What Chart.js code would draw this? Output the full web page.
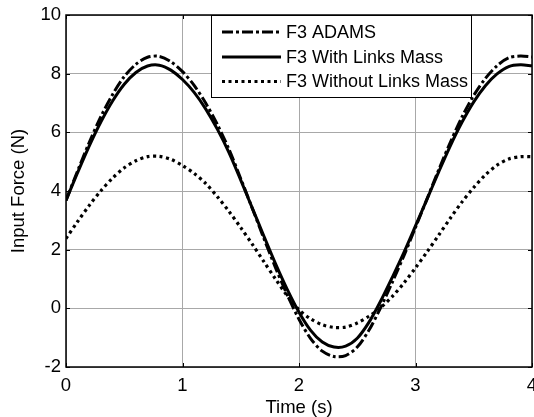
<!DOCTYPE html>
<html>
<head>
<meta charset="utf-8">
<script src="https://cdn.jsdelivr.net/npm/chart.js@4"></script>
<style>
  html, body { margin: 0; padding: 0; background: #fff; }
  #wrap { width: 534px; height: 417px; }
</style>
</head>
<body>
<div id="wrap"><canvas id="forceChart" width="534" height="417"></canvas></div>
<script>
// time samples (s)
const timeValues = [0, 0.1, 0.2, 0.3, 0.4, 0.5, 0.6, 0.7, 0.8, 0.9,
  1, 1.1, 1.2, 1.3, 1.4, 1.5, 1.6, 1.7, 1.8, 1.9,
  2, 2.1, 2.2, 2.3, 2.4, 2.5, 2.6, 2.7, 2.8, 2.9,
  3, 3.1, 3.2, 3.3, 3.4, 3.5, 3.6, 3.7, 3.8, 3.9, 4];

// input force (N)
const adamsForce = [3.68, 4.69, 5.66, 6.54, 7.29, 7.90, 8.32, 8.56, 8.59, 8.41,
  8.07, 7.60, 6.99, 6.26, 5.41, 4.42, 3.40, 2.37, 1.37, 0.45,
  -0.37, -1.03, -1.46, -1.64, -1.61, -1.32, -0.75, 0.02, 0.88, 1.79,
  2.76, 3.74, 4.73, 5.67, 6.53, 7.26, 7.84, 8.27, 8.54, 8.60, 8.57];

const withLinksForce = [3.68, 4.63, 5.54, 6.36, 7.07, 7.64, 8.04, 8.26, 8.29, 8.12,
  7.80, 7.36, 6.79, 6.10, 5.30, 4.37, 3.41, 2.45, 1.51, 0.64,
  -0.13, -0.75, -1.15, -1.32, -1.29, -1.02, -0.48, 0.24, 1.05, 1.90,
  2.81, 3.73, 4.66, 5.55, 6.35, 7.04, 7.59, 7.99, 8.24, 8.30, 8.27];

const withoutLinksForce = [2.38, 2.96, 3.51, 4.01, 4.44, 4.79, 5.03, 5.17, 5.18, 5.08,
  4.87, 4.60, 4.25, 3.80, 3.30, 2.75, 2.18, 1.58, 0.99, 0.42,
  -0.05, -0.36, -0.56, -0.65, -0.64, -0.50, -0.27, 0.02, 0.40, 0.86,
  1.38, 1.93, 2.50, 3.08, 3.63, 4.12, 4.55, 4.88, 5.09, 5.17, 5.17];

const seriesLabels = ['F3 ADAMS', 'F3 With Links Mass', 'F3 Without Links Mass'];
const xTicks = [0, 1, 2, 3, 4];
const yTicks = [-2, 0, 2, 4, 6, 8, 10];

const fontFamily = '"Liberation Sans", Arial, Helvetica, sans-serif';

function toPoints(values) {
    return values.map((v, i) => ({ x: timeValues[i], y: v }));
}

// box around the axes + inward tick marks (matlab style)
const axesBox = {
    id: 'axesBox',
    afterDatasetsDraw(chart) {
        const { ctx, chartArea: a, scales } = chart;
        ctx.save();
        ctx.strokeStyle = '#000';
        ctx.lineWidth = 1;
        xTicks.forEach(v => {
            const px = Math.round(scales.x.getPixelForValue(v)) + 0.5;
            ctx.beginPath();
            ctx.moveTo(px, a.bottom); ctx.lineTo(px, a.bottom - 4);
            ctx.moveTo(px, a.top); ctx.lineTo(px, a.top + 4);
            ctx.stroke();
        });
        yTicks.forEach(v => {
            const py = Math.round(scales.y.getPixelForValue(v)) + 0.5;
            ctx.beginPath();
            ctx.moveTo(a.left, py); ctx.lineTo(a.left + 4, py);
            ctx.moveTo(a.right, py); ctx.lineTo(a.right - 4, py);
            ctx.stroke();
        });
        ctx.lineWidth = 1.5;
        ctx.strokeRect(a.left, a.top, a.right - a.left, a.bottom - a.top);
        ctx.restore();
    }
};

// legend drawn as a boxed panel inside the axes
const legendPanel = {
    id: 'legendPanel',
    afterDraw(chart) {
        const ctx = chart.ctx;
        const left = 211, top = 15, width = 260, height = 82;
        const rows = [32, 57, 81.5];
        ctx.save();
        ctx.fillStyle = '#fff';
        ctx.fillRect(left, top, width, height);
        ctx.strokeStyle = '#000';
        ctx.lineWidth = 1;
        ctx.strokeRect(left + 0.5, top + 0.5, width, height);
        chart.data.datasets.forEach((ds, i) => {
            ctx.beginPath();
            ctx.setLineDash(ds.borderDash || []);
            ctx.lineWidth = ds.borderWidth;
            ctx.strokeStyle = ds.borderColor;
            ctx.moveTo(222, rows[i]);
            ctx.lineTo(281, rows[i]);
            ctx.stroke();
            ctx.setLineDash([]);
            ctx.fillStyle = '#000';
            ctx.font = '18px ' + fontFamily;
            ctx.textBaseline = 'middle';
            ctx.fillText(ds.label, 286, rows[i] + 1);
        });
        ctx.restore();
    }
};

const ctx = document.getElementById('forceChart').getContext('2d');

new Chart(ctx, {
    type: 'line',
    data: {
        datasets: [
            {
                label: seriesLabels[0],
                data: toPoints(adamsForce),
                borderColor: '#000',
                borderWidth: 3,
                borderDash: [11, 3, 3, 3],
                pointRadius: 0,
                tension: 0.3
            },
            {
                label: seriesLabels[1],
                data: toPoints(withLinksForce),
                borderColor: '#000',
                borderWidth: 3,
                pointRadius: 0,
                tension: 0.3
            },
            {
                label: seriesLabels[2],
                data: toPoints(withoutLinksForce),
                borderColor: '#000',
                borderWidth: 3.2,
                borderDash: [3, 3.5],
                pointRadius: 0,
                tension: 0.3
            }
        ]
    },
    options: {
        responsive: false,
        animation: false,
        devicePixelRatio: 1,
        layout: { padding: { top: 15, right: 2, left: 0, bottom: 0 } },
        plugins: {
            legend: { display: false },
            tooltip: { enabled: false }
        },
        scales: {
            x: {
                type: 'linear',
                min: 0,
                max: 4,
                afterBuildTicks: s => { s.ticks = xTicks.map(v => ({ value: v })); },
                ticks: {
                    color: '#000',
                    padding: 8,
                    maxRotation: 0,
                    font: { family: fontFamily, size: 18.5 }
                },
                grid: { color: '#a8a8a8', lineWidth: 1, drawTicks: false },
                border: { display: false },
                title: {
                    display: true,
                    text: 'Time (s)',
                    color: '#000',
                    font: { family: fontFamily, size: 18.5, lineHeight: 1 },
                    padding: { top: 0, bottom: 0 }
                },
                afterFit: s => { s.height = 50; s.paddingLeft = 0; s.paddingRight = 0; }
            },
            y: {
                type: 'linear',
                min: -2,
                max: 10,
                afterBuildTicks: s => { s.ticks = yTicks.map(v => ({ value: v })); },
                ticks: {
                    color: '#000',
                    padding: 5,
                    font: { family: fontFamily, size: 18.5 }
                },
                grid: { color: '#a8a8a8', lineWidth: 1, drawTicks: false },
                border: { display: false },
                title: {
                    display: true,
                    text: 'Input Force (N)',
                    color: '#000',
                    font: { family: fontFamily, size: 18.5, lineHeight: 1 },
                    padding: { top: 10, bottom: 0 }
                },
                afterFit: s => { s.width = 66; s.paddingTop = 0; s.paddingBottom = 0; }
            }
        }
    },
    plugins: [axesBox, legendPanel]
});
</script>
</body>
</html>
